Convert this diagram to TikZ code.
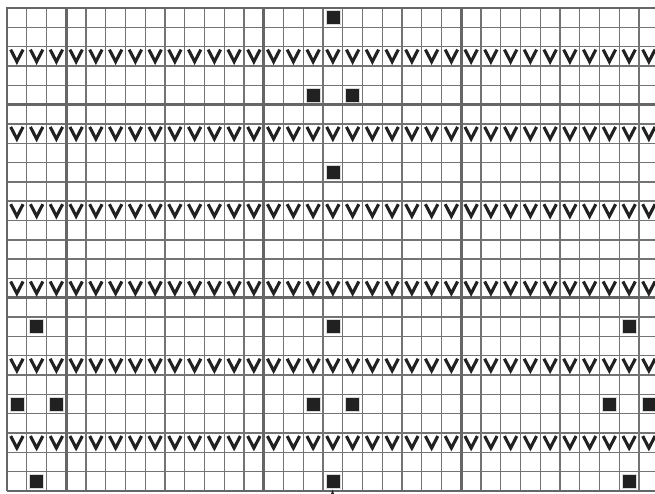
\documentclass[tikz,border=0pt]{standalone}
\begin{document}
\begin{tikzpicture}[x=1pt,y=-1pt,
  gridline/.style={draw=black!55, line width=1.45pt},
  borderline/.style={draw=black!60, line width=2pt},
  thickline/.style={draw=black!60, line width=3pt},
  purlbox/.style={fill=black!87, draw=white!85!black, line width=0.6pt},
  slipv/.style={draw=black!87, line width=3.1pt, line join=miter, miter limit=10, line cap=butt},
  centermark/.style={fill=black!87}
]
\def\cw{19.75}
\def\rh{19.32}
\def\xo{7}
\def\yo{8}
\useasboundingbox (0,0) rectangle (655,494);
\fill[white] (0,0) rectangle (655,494);
% thin grid
\foreach \c in {1,...,32} \draw[gridline] ({\xo+\c*\cw},\yo) -- ({\xo+\c*\cw},{\yo+25*\rh});
\foreach \r in {1,...,24} \draw[gridline] (\xo,{\yo+\r*\rh}) -- (660,{\yo+\r*\rh});
% borders
\draw[borderline] (\xo,{\yo+25*\rh}) -- (\xo,\yo) -- (660,\yo);
\draw[borderline] (\xo,{\yo+25*\rh}) -- (660,{\yo+25*\rh});
% thick lines every ten stitches / rows
\foreach \c in {3,13,23} \draw[thickline] ({\xo+\c*\cw},\yo) -- ({\xo+\c*\cw},{\yo+25*\rh});
\foreach \r in {5,15} \draw[thickline] (\xo,{\yo+\r*\rh}) -- (660,{\yo+\r*\rh});
% slipped-stitch rows
\foreach \r in {3,7,11,15,19,23}
  \foreach \c in {1,...,33}
    \draw[slipv] ({\xo+(\c-0.5)*\cw-6.2},{\yo+(\r-1)*\rh+3}) -- ({\xo+(\c-0.5)*\cw},{\yo+(\r-1)*\rh+15}) -- ({\xo+(\c-0.5)*\cw+6.2},{\yo+(\r-1)*\rh+3});
% purl squares
\foreach \c/\r in {17/1,16/5,18/5,17/9,2/17,17/17,32/17,1/21,3/21,16/21,18/21,31/21,33/21,2/25,17/25,32/25}
  \filldraw[purlbox] ({\xo+(\c-0.5)*\cw-7},{\yo+(\r-0.5)*\rh-7}) rectangle ++(14,14);
% center mark
\fill[centermark] (332.5,489.5) -- (331,494) -- (334,494) -- cycle;
\end{tikzpicture}
\end{document}
